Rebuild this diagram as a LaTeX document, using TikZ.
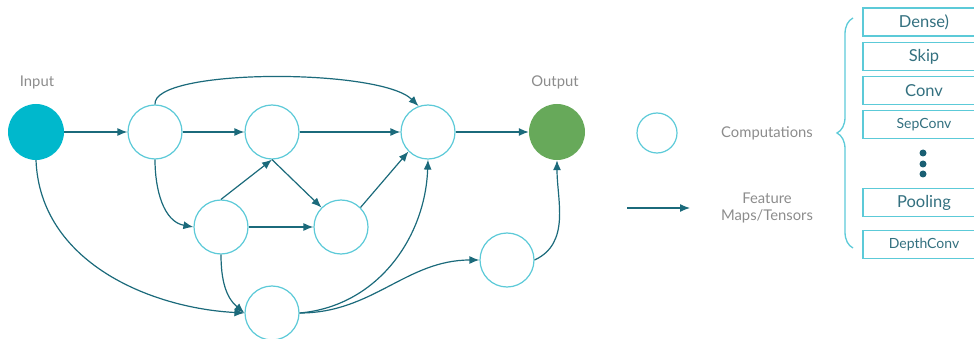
\documentclass[tikz,border=0pt]{standalone}
\usepackage{fontspec}
\setmainfont{Lato}
\usetikzlibrary{arrows.meta,decorations.pathreplacing}
\definecolor{edgec}{HTML}{1B6A7B}
\definecolor{ringc}{HTML}{5CCAD8}
\definecolor{inc}{HTML}{00B8CC}
\definecolor{outc}{HTML}{67A95A}
\definecolor{labc}{HTML}{8C8C8C}
\definecolor{boxtxt}{HTML}{33707F}
\definecolor{dotc}{HTML}{1A5F73}
\tikzset{
  comp/.style={circle,draw=ringc,line width=1.2pt,minimum size=54pt,inner sep=0pt,fill=white},
  edge/.style={draw=edgec,line width=1.2pt,-{Latex[length=10pt,width=8pt]}},
  lab/.style={text=labc,font=\fontsize{14.8}{17}\selectfont,inner sep=0pt},
  opbox/.style={draw=ringc,line width=1.4pt,minimum width=122pt,minimum height=28pt,inner sep=0pt,text=boxtxt},
  big/.style={font=\fontsize{16.5}{18}\selectfont},
  small/.style={font=\fontsize{14}{16}\selectfont},
  dotn/.style={circle,fill=dotc,minimum size=7pt,inner sep=0pt}
}
\begin{document}
\begin{tikzpicture}[x=1pt,y=-1pt]
\useasboundingbox (0,0) rectangle (974,339);
\clip (0,0) rectangle (974,339);
% nodes
\node[circle,fill=inc,minimum size=56pt,inner sep=0pt] (in) at (36,132) {};
\node[circle,fill=outc,minimum size=56pt,inner sep=0pt] (out) at (557,132) {};
\node[lab] (inl) at (37,82) {Input};
\node[lab] (outl) at (555,82) {Output};
\node[comp] (a) at (155,132) {};
\node[comp] (b) at (272,132) {};
\node[comp] (c) at (428,132) {};
\node[comp] (d) at (221,227) {};
\node[comp] (e) at (341,227) {};
\node[comp] (f) at (272,313) {};
\node[comp] (g) at (507,260) {};
% edges
\draw[edge] (in) -- (a);
\draw[edge] (a) -- (b);
\draw[edge] (b) -- (c);
\draw[edge] (c) -- (out);
\draw[edge] (a.north) .. controls (152,68) and (380,68) .. (c.110);
\draw[edge] (a.south) to[out=270,in=170] (d.west);
\draw[edge] (d.north) -- (b.south);
\draw[edge] (b.south) -- (e.135);
\draw[edge] (d) -- (e);
\draw[edge] (e.45) -- (c.225);
\draw[edge] (in.south) .. controls (40,262) and (150,308) .. (f.west);
\draw[edge] (d.south) to[out=270,in=140] (f.west);
\draw[edge] (f.east) to[out=5,in=268] (c.south);
\draw[edge] (f.east) to[out=0,in=180] (g.west);
\draw[edge] (g.east) to[out=25,in=270] (out.south);
% legend
\node[circle,draw=ringc,line width=1.2pt,minimum size=40pt,inner sep=0pt] (lc) at (657,133) {};
\node[lab] (lct) at (767,133) {Computations};
\coordinate (la1) at (627,208);
\coordinate (la2) at (690,208);
\draw[edge] (la1) -- (la2);
\node[lab,align=center,font=\fontsize{14.8}{17.5}\selectfont] (lat) at (767,208) {Feature\\Maps/Tensors};
% brace
\coordinate (br1) at (853,248);
\coordinate (br2) at (853,18);
\draw[ringc,line width=1.3pt,decorate,decoration={brace,amplitude=16pt}] (br1) -- (br2);
% op boxes
\node[opbox,big] (o1) at (924,22) {Dense)};
\node[opbox,big] (o2) at (924,56.5) {Skip};
\node[opbox,big] (o3) at (924,90.5) {Conv};
\node[opbox,small] (o4) at (924,124.5) {SepConv};
\node[opbox,big] (o5) at (924,202.5) {Pooling};
\node[opbox,small] (o6) at (924,244.5) {DepthConv};
\node[dotn] (d1) at (923,153) {};
\node[dotn] (d2) at (923,164) {};
\node[dotn] (d3) at (923,174) {};
\end{tikzpicture}
\end{document}
